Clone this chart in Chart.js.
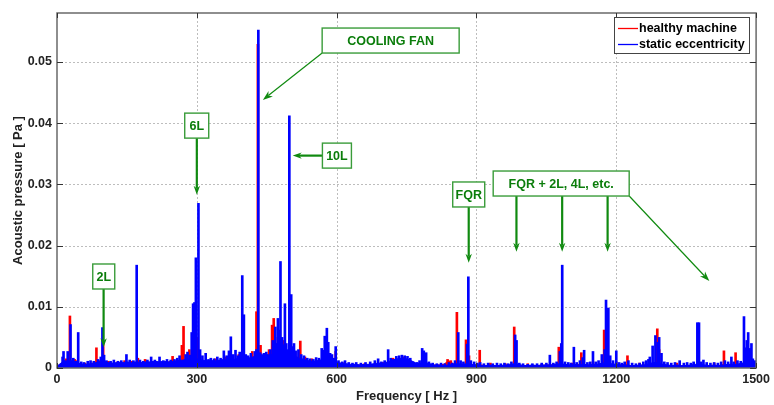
<!DOCTYPE html>
<html>
<head>
<meta charset="utf-8">
<title>Acoustic spectrum</title>
<script src="https://cdn.jsdelivr.net/npm/chart.js@4.4.1/dist/chart.umd.min.js"></script>
<style>
  html, body { margin: 0; padding: 0; background: #fff; }
</style>
</head>
<body>
<canvas id="spectrum" width="774" height="405"></canvas>
<script>
// axis ticks
const xTicks = [0, 300, 600, 900, 1200, 1500];
const yTicks = [0, 0.01, 0.02, 0.03, 0.04, 0.05];
const yTickLabels = ['0', '0.01', '0.02', '0.03', '0.04', '0.05'];

const seriesNames = ['healthy machine', 'static eccentricity'];

// noise floor, one value every 10 Hz from 0 to 1500 Hz
const floorStepHz = 10;
const healthyFloor = [
  0.0003, 0.0007, 0.0010, 0.0011, 0.0011, 0.0006, 0.0005, 0.0006, 0.0009, 0.0009,
  0.0010, 0.0008, 0.0007, 0.0008, 0.0008, 0.0009, 0.0008, 0.0009, 0.0008, 0.0010,
  0.0009, 0.0010, 0.0009, 0.0010, 0.0010, 0.0011, 0.0012, 0.0014, 0.0013, 0.0014,
  0.0014, 0.0012, 0.0011, 0.0011, 0.0011, 0.0012, 0.0013, 0.0013, 0.0013, 0.0015,
  0.0016, 0.0015, 0.0017, 0.0021, 0.0020, 0.0021, 0.0023, 0.0022, 0.0022, 0.0021,
  0.0019, 0.0019, 0.0017, 0.0013, 0.0011, 0.0010, 0.0011, 0.0012, 0.0013, 0.0011,
  0.0008, 0.0007, 0.0006, 0.0005, 0.0005, 0.0005, 0.0005, 0.0005, 0.0006, 0.0007,
  0.0007, 0.0009, 0.0012, 0.0014, 0.0015, 0.0014, 0.0011, 0.0007, 0.0007, 0.0008,
  0.0006, 0.0005, 0.0005, 0.0006, 0.0012, 0.0007, 0.0006, 0.0006, 0.0006, 0.0005,
  0.0005, 0.0005, 0.0004, 0.0004, 0.0004, 0.0004, 0.0004, 0.0005, 0.0006, 0.0005,
  0.0004, 0.0004, 0.0004, 0.0004, 0.0004, 0.0005, 0.0005, 0.0006, 0.0006, 0.0005,
  0.0005, 0.0005, 0.0006, 0.0005, 0.0005, 0.0005, 0.0006, 0.0008, 0.0008, 0.0006,
  0.0005, 0.0005, 0.0006, 0.0004, 0.0004, 0.0004, 0.0005, 0.0006, 0.0008, 0.0009,
  0.0005, 0.0004, 0.0004, 0.0004, 0.0004, 0.0004, 0.0004, 0.0005, 0.0005, 0.0004,
  0.0004, 0.0004, 0.0004, 0.0006, 0.0005, 0.0006, 0.0006, 0.0007, 0.0008, 0.0006,
  0.0004
];
const eccentricFloor = [
  0.0003, 0.0009, 0.0011, 0.0012, 0.0010, 0.0007, 0.0006, 0.0007, 0.0008, 0.0010,
  0.0011, 0.0009, 0.0008, 0.0009, 0.0009, 0.0010, 0.0009, 0.0010, 0.0009, 0.0010,
  0.0010, 0.0011, 0.0010, 0.0011, 0.0010, 0.0011, 0.0012, 0.0013, 0.0014, 0.0016,
  0.0015, 0.0013, 0.0012, 0.0012, 0.0012, 0.0013, 0.0014, 0.0014, 0.0014, 0.0016,
  0.0017, 0.0016, 0.0018, 0.0020, 0.0019, 0.0020, 0.0022, 0.0023, 0.0024, 0.0022,
  0.0020, 0.0018, 0.0016, 0.0014, 0.0012, 0.0011, 0.0012, 0.0014, 0.0015, 0.0012,
  0.0009, 0.0008, 0.0007, 0.0006, 0.0006, 0.0005, 0.0006, 0.0006, 0.0007, 0.0008,
  0.0008, 0.0010, 0.0013, 0.0015, 0.0016, 0.0015, 0.0012, 0.0008, 0.0008, 0.0009,
  0.0007, 0.0005, 0.0005, 0.0004, 0.0005, 0.0006, 0.0007, 0.0006, 0.0007, 0.0006,
  0.0005, 0.0004, 0.0004, 0.0005, 0.0004, 0.0004, 0.0005, 0.0005, 0.0007, 0.0006,
  0.0004, 0.0004, 0.0005, 0.0004, 0.0005, 0.0005, 0.0005, 0.0006, 0.0007, 0.0006,
  0.0005, 0.0006, 0.0005, 0.0006, 0.0005, 0.0006, 0.0006, 0.0008, 0.0009, 0.0007,
  0.0006, 0.0005, 0.0005, 0.0004, 0.0004, 0.0005, 0.0005, 0.0007, 0.0009, 0.0009,
  0.0006, 0.0005, 0.0004, 0.0005, 0.0004, 0.0004, 0.0005, 0.0006, 0.0006, 0.0005,
  0.0004, 0.0005, 0.0004, 0.0005, 0.0006, 0.0006, 0.0006, 0.0008, 0.0009, 0.0007,
  0.0005
];

// spectral lines, healthy machine
const healthyPeakHz = [
  15, 20, 25, 27.7, 38, 43, 60, 84.6, 92, 99,
  110, 130, 145, 160, 173.5, 189, 205, 230, 248, 268,
  271.5, 284, 293, 300, 340, 360, 390, 419, 428, 431,
  436.7, 445, 455, 461.5, 465, 470, 474, 480, 486.5, 504,
  511, 522, 532, 547, 560, 578, 598, 612, 660, 700,
  721, 745, 790, 838, 845, 858, 877.6, 884, 907, 930,
  962, 981, 1010, 1040, 1076.7, 1105, 1125, 1150, 1174, 1200,
  1224, 1250, 1288, 1292, 1330, 1376, 1410, 1431, 1456, 1483
];
const healthyPeakAmp = [
  0.0012, 0.0015, 0.0020, 0.0085, 0.0014, 0.0012, 0.0008, 0.0033, 0.0012, 0.0040,
  0.0011, 0.0010, 0.0012, 0.0011, 0.0016, 0.0014, 0.0011, 0.0010, 0.0019, 0.0037,
  0.0068, 0.0030, 0.0100, 0.0050, 0.0015, 0.0018, 0.0022, 0.0027, 0.0092, 0.0529,
  0.0037, 0.0018, 0.0030, 0.0070, 0.0081, 0.0040, 0.0050, 0.0030, 0.0045, 0.0025,
  0.0027, 0.0044, 0.0018, 0.0015, 0.0012, 0.0030, 0.0027, 0.0009, 0.0007, 0.0009,
  0.0016, 0.0018, 0.0010, 0.0014, 0.0012, 0.0091, 0.0046, 0.0020, 0.0029, 0.0008,
  0.0007, 0.0067, 0.0007, 0.0006, 0.0034, 0.0008, 0.0025, 0.0010, 0.0062, 0.0010,
  0.0020, 0.0008, 0.0064, 0.0030, 0.0008, 0.0020, 0.0008, 0.0028, 0.0025, 0.0030
];

// spectral lines, static eccentricity
const eccentricPeakHz = [
  12, 14, 18, 23, 29, 35, 41, 45.5, 52, 58,
  66, 72, 79, 88, 94, 97.5, 101, 106, 115, 122,
  131, 138, 149, 156, 164, 171, 178, 185, 194, 202,
  210, 220, 228, 236, 244, 252, 258, 263, 276, 280,
  285, 289, 292, 295, 298, 303.5, 307, 312, 319, 325,
  330, 337, 344, 351, 358, 364, 369, 373, 378, 383,
  388, 392, 397.5, 401, 405, 410, 416, 424.5, 428, 432,
  436, 440, 444, 449, 453, 458, 463, 468.5, 471, 474,
  477, 479.5, 483, 486, 489, 492, 495, 498.5, 502.5, 506,
  508.5, 512, 518, 524, 530, 537, 543, 550, 556, 562,
  568, 571, 574.5, 579, 582, 586, 590, 594, 598, 604,
  612, 618, 626, 634, 642, 652, 662, 672, 682, 689,
  696, 703, 710.5, 716, 722, 728, 734, 740, 746, 752,
  758, 764, 772, 778, 783.5, 787, 792, 798, 806, 815,
  824, 832, 841, 848, 854, 861, 866, 872, 880, 882.6,
  888, 895, 902, 908, 916, 925, 935, 944, 952, 960,
  968, 975, 983, 986, 992, 1000, 1010, 1020, 1030, 1040,
  1050, 1057.5, 1065, 1072, 1079, 1082, 1084, 1090, 1097, 1103,
  1109, 1115, 1122, 1128, 1131, 1138, 1144, 1150, 1156, 1162,
  1169, 1175, 1178, 1183, 1187, 1193, 1200, 1206, 1212, 1218,
  1226, 1234, 1242, 1250, 1258, 1264, 1269, 1272, 1278, 1284,
  1289, 1292, 1297, 1303, 1310, 1318, 1326, 1336, 1345, 1352,
  1360, 1366, 1374, 1377.5, 1382, 1387, 1394, 1402, 1410, 1418,
  1425, 1433, 1440, 1447, 1452, 1460, 1467, 1474, 1477, 1480,
  1483, 1486, 1490, 1493, 1497
];
const eccentricPeakAmp = [
  0.0018, 0.0027, 0.0012, 0.0027, 0.0071, 0.0016, 0.0011, 0.0058, 0.0010, 0.0009,
  0.0011, 0.0012, 0.0011, 0.0014, 0.0018, 0.0066, 0.0021, 0.0012, 0.0011, 0.0013,
  0.0011, 0.0012, 0.0022, 0.0013, 0.0012, 0.0168, 0.0013, 0.0011, 0.0013, 0.0018,
  0.0013, 0.0018, 0.0012, 0.0014, 0.0013, 0.0014, 0.0016, 0.0020, 0.0022, 0.0026,
  0.0021, 0.0058, 0.0105, 0.0107, 0.0180, 0.0269, 0.0030, 0.0020, 0.0024, 0.0014,
  0.0016, 0.0015, 0.0018, 0.0016, 0.0028, 0.0020, 0.0028, 0.0051, 0.0022, 0.0029,
  0.0020, 0.0026, 0.0151, 0.0087, 0.0022, 0.0020, 0.0024, 0.0027, 0.0030, 0.0552,
  0.0025, 0.0022, 0.0024, 0.0026, 0.0022, 0.0030, 0.0045, 0.0067, 0.0040, 0.0081,
  0.0062, 0.0174, 0.0050, 0.0038, 0.0105, 0.0040, 0.0030, 0.0412, 0.0120, 0.0035,
  0.0040, 0.0028, 0.0030, 0.0022, 0.0020, 0.0016, 0.0015, 0.0014, 0.0017, 0.0016,
  0.0032, 0.0029, 0.0052, 0.0065, 0.0042, 0.0024, 0.0022, 0.0016, 0.0035, 0.0012,
  0.0010, 0.0012, 0.0009, 0.0008, 0.0009, 0.0008, 0.0009, 0.0010, 0.0012, 0.0015,
  0.0010, 0.0012, 0.0030, 0.0016, 0.0014, 0.0019, 0.0020, 0.0021, 0.0020, 0.0019,
  0.0016, 0.0010, 0.0009, 0.0012, 0.0032, 0.0028, 0.0025, 0.0010, 0.0008, 0.0007,
  0.0008, 0.0007, 0.0009, 0.0008, 0.0012, 0.0058, 0.0012, 0.0010, 0.0039, 0.0149,
  0.0012, 0.0010, 0.0008, 0.0009, 0.0007, 0.0008, 0.0007, 0.0008, 0.0007, 0.0008,
  0.0007, 0.0010, 0.0054, 0.0045, 0.0008, 0.0007, 0.0006, 0.0007, 0.0007, 0.0008,
  0.0008, 0.0021, 0.0008, 0.0010, 0.0027, 0.0040, 0.0168, 0.0010, 0.0009, 0.0008,
  0.0034, 0.0009, 0.0012, 0.0017, 0.0029, 0.0009, 0.0010, 0.0027, 0.0010, 0.0012,
  0.0022, 0.0030, 0.0111, 0.0098, 0.0020, 0.0012, 0.0028, 0.0009, 0.0008, 0.0010,
  0.0012, 0.0008, 0.0007, 0.0008, 0.0010, 0.0012, 0.0014, 0.0018, 0.0036, 0.0053,
  0.0042, 0.0050, 0.0024, 0.0010, 0.0009, 0.0008, 0.0009, 0.0012, 0.0008, 0.0009,
  0.0008, 0.0010, 0.0074, 0.0074, 0.0010, 0.0013, 0.0009, 0.0008, 0.0009, 0.0008,
  0.0010, 0.0012, 0.0010, 0.0018, 0.0010, 0.0012, 0.0011, 0.0084, 0.0033, 0.0045,
  0.0058, 0.0032, 0.0040, 0.0015, 0.0012
];

// text boxes (centre in Hz / Pa, width in px) and the arrows leaving them
const notes = [
  { text: '2L', hz: 100.3, pa: 0.01495, w: 22 },
  { text: '6L', hz: 299.8, pa: 0.0396, w: 24 },
  { text: 'COOLING FAN', hz: 715.9, pa: 0.0535, w: 137 },
  { text: '10L', hz: 600.6, pa: 0.0347, w: 29 },
  { text: 'FQR', hz: 883.4, pa: 0.02835, w: 32 },
  { text: 'FQR + 2L, 4L, etc.', hz: 1081.8, pa: 0.03014, w: 136 }
];
const pointers = [
  { note: 0, from: 'bottom', hz: 100, pa: 0.0034 },
  { note: 1, from: 'bottom', hz: 300, pa: 0.0283 },
  { note: 2, from: 'bottomLeft', hz: 441.7, pa: 0.0438, thin: true },
  { note: 3, from: 'left', hz: 505.7, pa: 0.0347 },
  { note: 4, from: 'bottom', hz: 883.4, pa: 0.0172 },
  { note: 5, from: 'bottom', hz: 985.8, pa: 0.0190 },
  { note: 5, from: 'bottom', hz: 1083.9, pa: 0.0190 },
  { note: 5, from: 'bottom', hz: 1181.4, pa: 0.0190 },
  { note: 5, from: 'bottomRight', hz: 1399.7, pa: 0.0142, thin: true }
];

const RED = '#ff0000';
const BLUE = '#0000ff';
const GREEN = '#108a10';
const FONT = 'Liberation Sans, Arial, Helvetica, sans-serif';

function pairs(xs, ys) {
  return xs.map((x, i) => ({ x: x, y: ys[i] }));
}
function floorPoints(vals) {
  return vals.map((v, i) => ({ x: i * floorStepHz, y: v }));
}

function drawArrow(ctx, x0, y0, x1, y1, thin) {
  const ang = Math.atan2(y1 - y0, x1 - x0);
  const ux = Math.cos(ang), uy = Math.sin(ang);
  const nx = -uy, ny = ux;
  const len = thin ? 10 : 9, half = thin ? 3.5 : 3.2;
  const bx = x1 - ux * len, by = y1 - uy * len;
  const kx = x1 - ux * len * 0.7, ky = y1 - uy * len * 0.7;
  ctx.lineWidth = thin ? 1.2 : 2.2;
  ctx.beginPath();
  ctx.moveTo(x0, y0);
  ctx.lineTo(kx, ky);
  ctx.stroke();
  ctx.beginPath();
  ctx.moveTo(x1, y1);
  ctx.lineTo(bx + nx * half, by + ny * half);
  ctx.lineTo(kx, ky);
  ctx.lineTo(bx - nx * half, by - ny * half);
  ctx.closePath();
  ctx.fill();
}

const extras = {
  id: 'extras',
  beforeDatasetsDraw(chart) {
    const { ctx, chartArea: a, scales: { x, y } } = chart;
    ctx.save();
    ctx.strokeStyle = '#bdbdbd';
    ctx.lineWidth = 1;
    ctx.setLineDash([2, 2]);
    xTicks.slice(1, -1).forEach(v => {
      const px = Math.round(x.getPixelForValue(v)) + 0.5;
      ctx.beginPath(); ctx.moveTo(px, a.top); ctx.lineTo(px, a.bottom); ctx.stroke();
    });
    yTicks.slice(1).forEach(v => {
      const py = Math.round(y.getPixelForValue(v)) + 0.5;
      ctx.beginPath(); ctx.moveTo(a.left, py); ctx.lineTo(a.right, py); ctx.stroke();
    });
    ctx.restore();
  },
  afterDatasetsDraw(chart) {
    const { ctx, chartArea: a, scales: { x, y } } = chart;
    ctx.save();

    // axes box and inward ticks
    ctx.strokeStyle = '#6a6a6a';
    ctx.lineWidth = 1.5;
    ctx.strokeRect(a.left, a.top, a.right - a.left, a.bottom - a.top);
    ctx.strokeStyle = '#333';
    ctx.lineWidth = 1;
    xTicks.forEach(v => {
      const px = Math.round(x.getPixelForValue(v)) + 0.5;
      ctx.beginPath();
      ctx.moveTo(px, a.bottom); ctx.lineTo(px, a.bottom - 5);
      ctx.moveTo(px, a.top); ctx.lineTo(px, a.top + 5);
      ctx.stroke();
    });
    yTicks.forEach(v => {
      const py = Math.round(y.getPixelForValue(v)) + 0.5;
      ctx.beginPath();
      ctx.moveTo(a.left, py); ctx.lineTo(a.left + 6, py);
      ctx.moveTo(a.right, py); ctx.lineTo(a.right - 6, py);
      ctx.stroke();
    });

    // legend in the top right corner
    ctx.font = 'bold 12.5px ' + FONT;
    const tw = Math.max(...seriesNames.map(s => ctx.measureText(s).width));
    const lw = Math.round(4 + 20 + 1 + tw + 4);
    const lx = Math.round(a.right - 7 - lw), ly = Math.round(a.top + 4), lh = 36;
    ctx.fillStyle = '#fff';
    ctx.fillRect(lx, ly, lw, lh);
    ctx.strokeStyle = '#444';
    ctx.lineWidth = 1;
    ctx.strokeRect(lx + 0.5, ly + 0.5, lw, lh);
    [RED, BLUE].forEach((c, i) => {
      const ry = ly + 11 + Math.round(i * 15.6) + 0.5;
      ctx.strokeStyle = c;
      ctx.lineWidth = 1.3;
      ctx.beginPath(); ctx.moveTo(lx + 4, ry); ctx.lineTo(lx + 24, ry); ctx.stroke();
      ctx.fillStyle = '#000';
      ctx.textAlign = 'left';
      ctx.textBaseline = 'middle';
      ctx.fillText(seriesNames[i], lx + 25, ry + 0.5);
    });

    // annotation arrows
    const boxes = notes.map(n => {
      const cx = x.getPixelForValue(n.hz), cy = y.getPixelForValue(n.pa);
      return { l: cx - n.w / 2, r: cx + n.w / 2, t: cy - 12.5, b: cy + 12.5, cx: cx, cy: cy };
    });
    ctx.strokeStyle = GREEN;
    ctx.fillStyle = GREEN;
    pointers.forEach(p => {
      const bx = boxes[p.note];
      const tx = x.getPixelForValue(p.hz), ty = y.getPixelForValue(p.pa);
      let sx, sy;
      if (p.from === 'bottom') { sx = tx; sy = bx.b; }
      else if (p.from === 'left') { sx = bx.l; sy = ty; }
      else if (p.from === 'bottomLeft') { sx = bx.l; sy = bx.b; }
      else { sx = bx.r; sy = bx.b; }
      drawArrow(ctx, sx, sy, tx, ty, p.thin);
    });

    // annotation boxes
    ctx.font = 'bold 12.5px ' + FONT;
    ctx.textAlign = 'center';
    ctx.textBaseline = 'middle';
    notes.forEach((n, i) => {
      const bx = boxes[i];
      ctx.fillStyle = '#fff';
      ctx.fillRect(bx.l, bx.t, n.w, 25);
      ctx.strokeStyle = '#3a9c3a';
      ctx.lineWidth = 1.4;
      ctx.strokeRect(bx.l, bx.t, n.w, 25);
      ctx.fillStyle = '#0b7d0b';
      ctx.fillText(n.text, bx.cx, bx.cy + 1);
    });
    ctx.restore();
  }
};

const tickFont = { family: FONT, size: 12.5, weight: 'bold' };
const titleFont = { family: FONT, size: 13, weight: 'bold' };

new Chart(document.getElementById('spectrum'), {
  type: 'bar',
  data: {
    datasets: [
      {
        type: 'bar', label: seriesNames[0], data: pairs(healthyPeakHz, healthyPeakAmp),
        backgroundColor: RED, borderWidth: 0, barThickness: 2, grouped: false, order: 2
      },
      {
        type: 'line', label: 'healthy floor', data: floorPoints(healthyFloor),
        borderColor: RED, backgroundColor: RED, borderWidth: 1, pointRadius: 0,
        fill: 'origin', tension: 0, order: 3
      },
      {
        type: 'bar', label: seriesNames[1], data: pairs(eccentricPeakHz, eccentricPeakAmp),
        backgroundColor: BLUE, borderWidth: 0, barThickness: 2, grouped: false, order: 0
      },
      {
        type: 'line', label: 'eccentric floor', data: floorPoints(eccentricFloor),
        borderColor: BLUE, backgroundColor: BLUE, borderWidth: 1, pointRadius: 0,
        fill: 'origin', tension: 0, order: 1
      }
    ]
  },
  options: {
    responsive: false,
    animation: false,
    layout: { padding: { top: 13, right: 14, left: 0, bottom: 0 } },
    plugins: {
      legend: { display: false },
      tooltip: { enabled: false }
    },
    scales: {
      x: {
        type: 'linear', min: 0, max: 1500, offset: false,
        grid: { display: false, drawTicks: false },
        border: { display: false },
        afterBuildTicks: s => { s.ticks = xTicks.map(v => ({ value: v })); },
        afterFit: s => { s.height = 37; },
        ticks: {
          padding: 4, color: '#222', font: tickFont, maxRotation: 0, autoSkip: false,
          callback: v => String(v)
        },
        title: {
          display: true, text: 'Frequency [ Hz ]', color: '#222', font: titleFont,
          padding: { top: 0, bottom: 1 }
        }
      },
      y: {
        type: 'linear', min: 0, max: 0.058,
        grid: { display: false, drawTicks: false },
        border: { display: false },
        afterBuildTicks: s => { s.ticks = yTicks.map(v => ({ value: v })); },
        afterFit: s => { s.width = 57; },
        ticks: {
          padding: 5, color: '#222', font: tickFont,
          callback: (v, i) => yTickLabels[i]
        },
        title: {
          display: true, text: 'Acoustic pressure [ Pa ]', color: '#222', font: titleFont,
          padding: { top: 11, bottom: 0 }
        }
      }
    }
  },
  plugins: [extras]
});
</script>
</body>
</html>
